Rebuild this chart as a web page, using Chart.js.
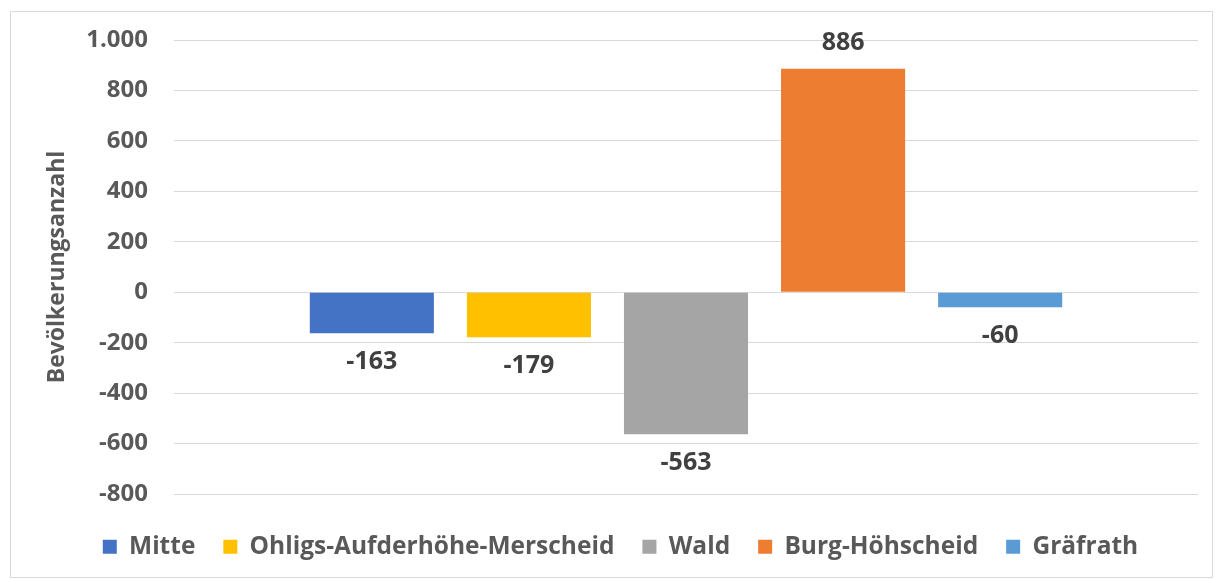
<!DOCTYPE html>
<html>
<head>
<meta charset="utf-8">
<script src="https://cdn.jsdelivr.net/npm/chart.js@4"></script>
<style>
    html, body { margin: 0; padding: 0; background: #fff; }
    #box {
        position: absolute;
        left: 10px;
        top: 11px;
        width: 1203px;
        height: 567px;
        border: 1px solid #d9d9d9;
        box-sizing: border-box;
    }
</style>
</head>
<body>
<div id="box"><canvas id="myChart"></canvas></div>
<script>
const districts = ['Mitte', 'Ohligs-Aufderhöhe-Merscheid', 'Wald', 'Burg-Höhscheid', 'Gräfrath'];
const changes = [-163, -179, -563, 886, -60];
const colors = ['#4472C4', '#FFC000', '#A5A5A5', '#ED7D31', '#5B9BD5'];
const yTicks = [-800, -600, -400, -200, 0, 200, 400, 600, 800, 1000];

Chart.defaults.font.family = '"Open Sans", "Noto Sans", sans-serif';
Chart.defaults.font.weight = 'bold';

function formatDe(v) {
    let s = String(Math.abs(v));
    s = s.replace(/\B(?=(\d{3})+(?!\d))/g, '.');
    return (v < 0 ? '-' : '') + s;
}

// value labels above / below each bar
const barLabels = {
    id: 'barLabels',
    afterDatasetsDraw(chart) {
        const ctx = chart.ctx;
        ctx.save();
        ctx.font = 'bold 25px "Open Sans", sans-serif';
        ctx.fillStyle = '#404040';
        ctx.textAlign = 'center';
        ctx.textBaseline = 'middle';
        chart.data.datasets.forEach((ds, i) => {
            const bar = chart.getDatasetMeta(i).data[0];
            const v = ds.data[0];
            const y = v >= 0 ? bar.y - 26 : bar.y + 29;
            ctx.fillText(formatDe(v), bar.x, y);
        });
        ctx.restore();
    }
};

// legend sits a bit right of centre in the original
const shiftLegend = {
    id: 'shiftLegend',
    afterLayout(chart) {
        chart.legend.left += 16;
        chart.legend.right += 16;
    }
};

const datasets = [];
for (let i = 0; i < districts.length; i++) {
    datasets.push({
        label: districts[i],
        data: [changes[i]],
        backgroundColor: colors[i],
        categoryPercentage: 0.767,
        barPercentage: 0.79
    });
}

new Chart(document.getElementById('myChart').getContext('2d'), {
    type: 'bar',
    data: {
        labels: [''],
        datasets: datasets
    },
    options: {
        responsive: true,
        maintainAspectRatio: false,
        animation: false,
        layout: {
            padding: { top: 28, right: 14, bottom: 8, left: 0 }
        },
        scales: {
            x: {
                ticks: { display: false },
                grid: { display: false },
                border: { display: false },
                afterFit: (s) => { s.height = 12.5; }
            },
            y: {
                min: -800,
                max: 1000,
                afterBuildTicks: (s) => { s.ticks = yTicks.map(v => ({ value: v })); },
                afterFit: (s) => {
                    s.width = 163;
                    s.paddingTop = 0;
                    s.paddingBottom = 0;
                },
                ticks: {
                    padding: 26,
                    color: '#595959',
                    font: { size: 24, weight: 'bold' },
                    callback: (v) => formatDe(v)
                },
                grid: { color: '#d9d9d9', drawTicks: false },
                border: { display: false },
                title: {
                    display: true,
                    text: 'Bevölkerungsanzahl',
                    color: '#595959',
                    font: { size: 23, weight: 'bold' },
                    padding: { top: 33, bottom: 0 }
                }
            }
        },
        plugins: {
            legend: {
                position: 'bottom',
                labels: {
                    boxWidth: 14,
                    boxHeight: 14,
                    padding: 28,
                    color: '#595959',
                    font: { size: 24.5, weight: 'bold' }
                }
            },
            tooltip: { enabled: false }
        }
    },
    plugins: [barLabels, shiftLegend]
});
</script>
</body>
</html>
